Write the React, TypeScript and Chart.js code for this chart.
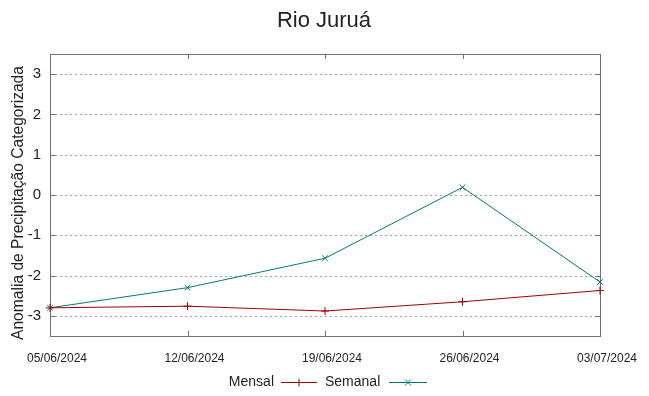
import React, { useEffect, useRef } from "react";
import { Chart, registerables } from "chart.js";

Chart.register(...registerables);

const title = "Rio Juruá";
const yAxisTitle = "Anomalia de Precipitação Categorizada";
const dates = ["05/06/2024", "12/06/2024", "19/06/2024", "26/06/2024", "03/07/2024"];
const mensal = [-2.8, -2.76, -2.88, -2.65, -2.37];
const semanal = [-2.8, -2.3, -1.57, 0.19, -2.16];
const yTicks = [-3, -2, -1, 0, 1, 2, 3];
const yMin = -3.5;
const yMax = 3.5;

const RED = "#a00000";
const TEAL = "#00787c";
const FONT = "'Liberation Sans', Arial, sans-serif";

function drawMarker(ctx: CanvasRenderingContext2D, x: number, y: number, kind: string, color: string) {
  ctx.save();
  ctx.strokeStyle = color;
  ctx.lineWidth = 1;
  ctx.beginPath();
  const r = 4;
  if (kind === "plus") {
    ctx.moveTo(x - r, y);
    ctx.lineTo(x + r, y);
    ctx.moveTo(x, y - r);
    ctx.lineTo(x, y + r);
  } else {
    ctx.moveTo(x - r * 0.75, y - r * 0.75);
    ctx.lineTo(x + r * 0.75, y + r * 0.75);
    ctx.moveTo(x - r * 0.75, y + r * 0.75);
    ctx.lineTo(x + r * 0.75, y - r * 0.75);
  }
  ctx.stroke();
  ctx.restore();
}

const framePlugin = {
  id: "gnuframe",
  beforeDatasetsDraw(chart: any) {
    const { ctx, chartArea: a, scales } = chart;
    const y = scales.y;
    const x = scales.x;
    ctx.save();
    ctx.strokeStyle = "#a0a0a0";
    ctx.lineWidth = 1;
    ctx.setLineDash([2, 3]);
    for (const v of yTicks) {
      const py = Math.round(y.getPixelForValue(v)) + 0.5;
      ctx.beginPath();
      ctx.moveTo(a.left, py);
      ctx.lineTo(a.right, py);
      ctx.stroke();
    }
    ctx.setLineDash([]);
    ctx.strokeStyle = "#707070";
    ctx.strokeRect(Math.round(a.left) + 0.5, Math.round(a.top) + 0.5, Math.round(a.right - a.left), Math.round(a.bottom - a.top));
    const tl = 5;
    for (const v of yTicks) {
      const py = Math.round(y.getPixelForValue(v)) + 0.5;
      ctx.beginPath();
      ctx.moveTo(a.left, py);
      ctx.lineTo(a.left + tl, py);
      ctx.moveTo(a.right, py);
      ctx.lineTo(a.right - tl, py);
      ctx.stroke();
    }
    for (let i = 0; i < dates.length; i++) {
      const px = Math.round(x.getPixelForValue(i)) + 0.5;
      ctx.beginPath();
      ctx.moveTo(px, a.bottom);
      ctx.lineTo(px, a.bottom - tl);
      ctx.moveTo(px, a.top);
      ctx.lineTo(px, a.top + tl);
      ctx.stroke();
    }
    ctx.restore();
  },
  afterDraw(chart: any) {
    const { ctx } = chart;
    ctx.save();
    ctx.fillStyle = "#222";
    ctx.font = `22px ${FONT}`;
    ctx.textAlign = "center";
    ctx.textBaseline = "alphabetic";
    ctx.fillText(title, 324, 27);
    ctx.save();
    ctx.translate(23, 203);
    ctx.rotate(-Math.PI / 2);
    ctx.font = `15.6px ${FONT}`;
    ctx.textAlign = "center";
    ctx.textBaseline = "alphabetic";
    ctx.fillText(yAxisTitle, 0, 0);
    ctx.restore();
    ctx.font = `14px ${FONT}`;
    ctx.textBaseline = "middle";
    ctx.textAlign = "right";
    const ly = 382.5;
    ctx.fillText(chart.data.datasets[0].label, 274, ly);
    ctx.textAlign = "left";
    ctx.fillText(chart.data.datasets[1].label, 325, ly);
    ctx.lineWidth = 1;
    ctx.strokeStyle = RED;
    ctx.beginPath();
    ctx.moveTo(281, ly);
    ctx.lineTo(317, ly);
    ctx.stroke();
    drawMarker(ctx, 299, ly, "plus", RED);
    ctx.strokeStyle = TEAL;
    ctx.beginPath();
    ctx.moveTo(389, ly);
    ctx.lineTo(427, ly);
    ctx.stroke();
    drawMarker(ctx, 408, ly, "x", TEAL);
    ctx.restore();
  },
};

export default function App() {
  const ref = useRef<HTMLCanvasElement | null>(null);
  useEffect(() => {
    if (!ref.current) return;
    const chart = new Chart(ref.current, {
      type: "line",
      data: {
        labels: dates,
        datasets: [
          {
            label: "Mensal",
            data: mensal,
            borderColor: RED,
            backgroundColor: RED,
            borderWidth: 1,
            pointStyle: "cross",
            pointRadius: 4,
            pointBorderWidth: 1,
            pointBorderColor: RED,
            tension: 0,
            clip: false as any,
          },
          {
            label: "Semanal",
            data: semanal,
            borderColor: TEAL,
            backgroundColor: TEAL,
            borderWidth: 1,
            pointStyle: "crossRot",
            pointRadius: 4,
            pointBorderWidth: 1,
            pointBorderColor: TEAL,
            tension: 0,
            clip: false as any,
          },
        ],
      },
      options: {
        animation: false,
        responsive: false,
        layout: { padding: { top: 54, right: 49, bottom: 0, left: 0 } },
        plugins: {
          legend: { display: false },
          title: { display: false },
          tooltip: { enabled: false },
        },
        scales: {
          x: {
            type: "category",
            offset: false,
            grid: { display: false, drawTicks: false },
            border: { display: false },
            ticks: {
              font: { family: FONT, size: 12 },
              color: "#222",
              padding: 15,
              labelOffset: 7,
              maxRotation: 0,
              autoSkip: false,
            },
            afterFit(scale: any) {
              scale.height = 60;
            },
          },
          y: {
            min: yMin,
            max: yMax,
            grid: { display: false, drawTicks: false },
            border: { display: false },
            ticks: {
              font: { family: FONT, size: 15 },
              color: "#222",
              padding: 9,
            },
            afterBuildTicks(scale: any) {
              scale.ticks = yTicks.map((v) => ({ value: v }));
            },
            afterFit(scale: any) {
              scale.width = 50;
            },
          },
        },
      },
      plugins: [framePlugin],
    });
    return () => chart.destroy();
  }, []);
  return (
    <div style={{ position: "absolute", left: 0, top: 0, width: 649, height: 396, background: "#fff" }}>
      <canvas ref={ref} width={649} height={396} style={{ display: "block" }} />
    </div>
  );
}
